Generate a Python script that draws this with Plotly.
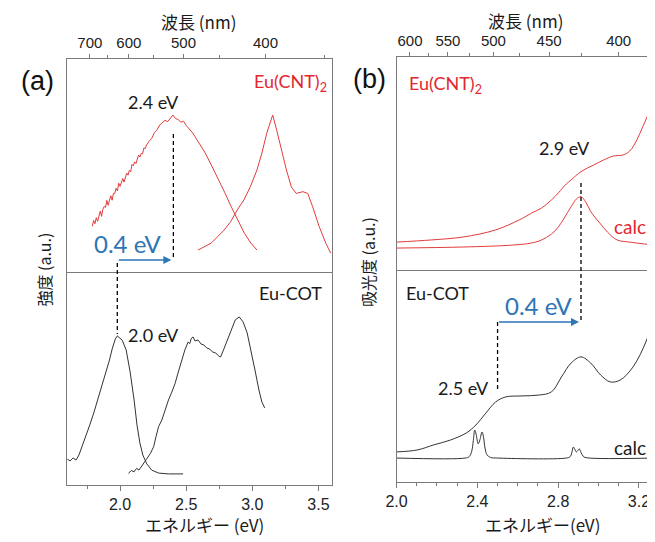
import plotly.graph_objects as go

W, H = 655, 542
OFF = 8          # the page body adds an 8 px margin; place content to compensate
HC = 1239.84     # eV * nm (wavelength <-> energy)

# ================= DATA =================
# (a) upper : Eu(CNT)2 emission (left, noisy) and excitation (right)
a_cnt_em_E = [1.79, 1.80, 1.81, 1.82, 1.83, 1.84, 1.85, 1.86, 1.87, 1.88, 1.89, 1.90, 1.91, 1.92,
              1.93, 1.94, 1.95, 1.96, 1.97, 1.98, 1.99, 2.00, 2.01, 2.02, 2.03, 2.04, 2.05, 2.06,
              2.07, 2.08, 2.09, 2.10, 2.11, 2.12, 2.13, 2.14, 2.15, 2.16, 2.17, 2.18, 2.19, 2.20,
              2.22, 2.24, 2.26, 2.28, 2.30, 2.32, 2.34, 2.36, 2.38, 2.40, 2.42, 2.44, 2.46, 2.48,
              2.50, 2.52, 2.55, 2.59, 2.64, 2.69, 2.74, 2.79, 2.84, 2.89, 2.94, 2.99, 3.035]
a_cnt_em_I = [0.215, 0.242, 0.227, 0.255, 0.238, 0.265, 0.286, 0.261, 0.295, 0.308, 0.303, 0.336, 0.313, 0.337,
              0.358, 0.337, 0.370, 0.369, 0.393, 0.380, 0.417, 0.402, 0.417, 0.439, 0.422, 0.451, 0.464, 0.455,
              0.477, 0.470, 0.505, 0.498, 0.517, 0.509, 0.534, 0.549, 0.540, 0.557, 0.555, 0.582, 0.579, 0.596,
              0.614, 0.628, 0.655, 0.668, 0.690, 0.703, 0.712, 0.706, 0.724, 0.737, 0.720, 0.716, 0.703, 0.708,
              0.688, 0.672, 0.652, 0.612, 0.563, 0.502, 0.440, 0.375, 0.307, 0.244, 0.182, 0.135, 0.103]
a_cnt_ex_E = [2.589, 2.639, 2.688, 2.738, 2.787, 2.836, 2.886, 2.936, 2.985, 3.035, 3.072, 3.109,
              3.154, 3.184, 3.221, 3.258, 3.295, 3.332, 3.382, 3.419, 3.456, 3.506, 3.556, 3.593]
a_cnt_ex_I = [0.103, 0.119, 0.135, 0.166, 0.197, 0.236, 0.291, 0.338, 0.400, 0.479, 0.557, 0.651,
              0.737, 0.667, 0.573, 0.479, 0.400, 0.369, 0.377, 0.369, 0.307, 0.213, 0.135, 0.088]

# (a) lower : Eu-COT emission (left) and excitation (right)
a_cot_em_E = [1.600, 1.622, 1.645, 1.667, 1.689, 1.712, 1.741, 1.771, 1.801, 1.830, 1.860, 1.890, 1.920,
              1.942, 1.964, 1.979, 1.994, 2.016, 2.046, 2.076, 2.106, 2.128, 2.150, 2.172, 2.202, 2.239,
              2.291, 2.366, 2.477]
a_cot_em_I = [0.122, 0.113, 0.127, 0.117, 0.141, 0.178, 0.225, 0.282, 0.338, 0.399, 0.455, 0.526, 0.587,
              0.643, 0.685, 0.700, 0.690, 0.680, 0.634, 0.531, 0.399, 0.282, 0.197, 0.141, 0.099, 0.070,
              0.056, 0.052, 0.052]
a_cot_ex_E = [2.063, 2.085, 2.106, 2.125, 2.143, 2.167, 2.185, 2.204, 2.230, 2.254, 2.272, 2.291, 2.316,
              2.340, 2.366, 2.391, 2.416, 2.436, 2.455, 2.475, 2.490, 2.514, 2.527, 2.539, 2.552, 2.567,
              2.589, 2.612, 2.634, 2.656, 2.678, 2.700, 2.723, 2.745, 2.760, 2.782, 2.812, 2.842, 2.871,
              2.901, 2.931, 2.961, 2.990, 3.020, 3.050, 3.072, 3.094]
a_cot_ex_I = [0.055, 0.068, 0.062, 0.078, 0.070, 0.094, 0.108, 0.125, 0.149, 0.180, 0.228, 0.274, 0.305,
              0.352, 0.399, 0.436, 0.477, 0.521, 0.563, 0.603, 0.634, 0.671, 0.664, 0.689, 0.695, 0.676,
              0.681, 0.662, 0.657, 0.643, 0.638, 0.624, 0.620, 0.606, 0.601, 0.634, 0.681, 0.737, 0.775,
              0.789, 0.765, 0.714, 0.634, 0.540, 0.446, 0.390, 0.362]

# (b) upper : Eu(CNT)2 absorption (exp) and calc.
b_cnt_exp_E = [2.000, 2.170, 2.330, 2.490, 2.607, 2.670, 2.718, 2.767, 2.801, 2.840, 2.864, 2.913,
               2.976, 3.024, 3.073, 3.121, 3.155, 3.189, 3.218, 3.243, 3.267, 3.282]
b_cnt_exp_I = [0.131, 0.141, 0.155, 0.188, 0.235, 0.268, 0.291, 0.329, 0.362, 0.404, 0.423, 0.462,
               0.493, 0.516, 0.535, 0.540, 0.559, 0.610, 0.671, 0.725, 0.780, 0.815]
b_cnt_calc_E = [2.000, 2.330, 2.573, 2.670, 2.718, 2.767, 2.801, 2.830, 2.864, 2.890, 2.913, 2.937,
                2.961, 2.985, 3.010, 3.044, 3.092, 3.155, 3.228, 3.282]
b_cnt_calc_I = [0.103, 0.108, 0.117, 0.127, 0.141, 0.169, 0.202, 0.244, 0.297, 0.333, 0.344, 0.318,
                0.275, 0.244, 0.216, 0.178, 0.141, 0.131, 0.122, 0.117]

# (b) lower : Eu-COT absorption (exp) and calc.
b_cot_exp_E = [2.000, 2.102, 2.184, 2.267, 2.345, 2.393, 2.442, 2.490, 2.539, 2.621, 2.704, 2.767,
               2.816, 2.864, 2.913, 2.961, 3.010, 3.058, 3.107, 3.170, 3.238, 3.277]
b_cot_exp_I = [0.142, 0.151, 0.175, 0.198, 0.231, 0.269, 0.325, 0.377, 0.401, 0.406, 0.410, 0.425,
               0.495, 0.561, 0.590, 0.561, 0.505, 0.472, 0.481, 0.542, 0.670, 0.797]
b_cot_calc_E = [2.000, 2.340, 2.360, 2.372, 2.380, 2.387, 2.394, 2.404, 2.413, 2.423, 2.430, 2.438,
                2.448, 2.465, 2.500, 2.840, 2.860, 2.868, 2.875, 2.882, 2.890, 2.897, 2.905, 2.913,
                2.925, 2.945, 3.280]
b_cot_calc_I = [0.113, 0.113, 0.120, 0.145, 0.195, 0.245, 0.225, 0.180, 0.200, 0.236, 0.215, 0.160,
                0.128, 0.116, 0.113, 0.113, 0.120, 0.140, 0.165, 0.155, 0.142, 0.148, 0.156, 0.140,
                0.120, 0.114, 0.113]

# axis ranges / ticks
a_range = [1.6, 3.6]
b_range = [2.0, 3.28]
a_top_nm = [700, 600, 500, 400]
a_top_minor_nm = [650, 550, 450, 350]
b_top_nm = [600, 550, 500, 450, 400]
b_top_minor_nm = [575, 525, 475, 425]

# marked energies
a_peak_cnt = 2.403
a_peak_cot = 1.979
b_peak_cnt = 2.913
b_edge_cot = 2.500

# ================= STYLE =================
RED = '#e03c3c'
RED_TXT = '#e3262e'
BLK = '#333333'
BLUE = '#2e75b6'
AXC = '#7a7a7a'
JP = 'Noto Sans CJK JP'
LAT = 'Lato, Noto Sans, sans-serif'
ARI = 'Liberation Sans, Arial, sans-serif'


def PX(x):
    return (x - OFF) / W


def PY(y):
    return 1 - (y - OFF) / H


fig = go.Figure()


def line(xs, ys, color, xa, ya, shape='linear', w=1.0):
    fig.add_trace(go.Scatter(x=xs, y=ys, mode='lines', xaxis=xa, yaxis=ya,
                             line=dict(color=color, width=w, shape=shape),
                             showlegend=False, hoverinfo='skip'))


line(a_cnt_em_E, a_cnt_em_I, RED, 'x2', 'y2')
line(a_cnt_ex_E, a_cnt_ex_I, RED, 'x2', 'y2')
line(a_cot_em_E, a_cot_em_I, BLK, 'x', 'y')
line(a_cot_ex_E, a_cot_ex_I, BLK, 'x', 'y')
line(b_cnt_exp_E, b_cnt_exp_I, RED, 'x4', 'y4', 'spline')
line(b_cnt_calc_E, b_cnt_calc_I, RED, 'x4', 'y4', 'spline')
line(b_cot_exp_E, b_cot_exp_I, BLK, 'x3', 'y3', 'spline')
line(b_cot_calc_E, b_cot_calc_I, BLK, 'x3', 'y3', 'spline')

A_X = [PX(57), PX(326)]
B_X = [PX(392), PX(655)]
A_YL = [PY(485), PY(272)]
A_YU = [PY(272), PY(59)]
B_YL = [PY(482), PY(270)]
B_YU = [PY(270), PY(57)]

base = dict(showgrid=False, zeroline=False, showline=True, linecolor=AXC, linewidth=1,
            tickcolor=AXC, tickwidth=1)
bfont = dict(family=ARI, size=16, color='#222222')
tfont = dict(family=ARI, size=15, color='#222222')
yb = dict(base, range=[0, 1], showticklabels=False, ticks='', fixedrange=True)

fig.update_layout(
    width=W, height=H, margin=dict(l=0, r=0, t=0, b=0),
    paper_bgcolor='white', plot_bgcolor='white',
    xaxis=dict(base, domain=A_X, anchor='y', range=a_range, tickmode='linear', tick0=2.0, dtick=0.5,
               tickformat='.1f', ticks='outside', ticklen=5, tickfont=bfont,
               minor=dict(tickmode='linear', tick0=1.75, dtick=0.25, ticks='outside', ticklen=3,
                          tickcolor=AXC)),
    xaxis2=dict(base, domain=A_X, anchor='y2', side='top', range=a_range, mirror=True,
                tickmode='array', tickvals=[HC / v for v in a_top_nm], ticktext=[str(v) for v in a_top_nm],
                ticks='outside', ticklen=4, tickfont=tfont,
                minor=dict(tickmode='array', tickvals=[HC / v for v in a_top_minor_nm], ticks='outside',
                           ticklen=3, tickcolor=AXC)),
    yaxis=dict(yb, domain=A_YL, anchor='x', mirror=True),
    yaxis2=dict(yb, domain=A_YU, anchor='x2', mirror=True),
    xaxis3=dict(base, domain=B_X, anchor='y3', range=b_range, tickmode='linear', tick0=2.0, dtick=0.4,
                tickformat='.1f', ticks='outside', ticklen=5, tickfont=bfont,
                minor=dict(tickmode='linear', tick0=2.0, dtick=0.1, ticks='outside', ticklen=3,
                           tickcolor=AXC)),
    xaxis4=dict(base, domain=B_X, anchor='y4', side='top', range=b_range, mirror=True,
                tickmode='array', tickvals=[HC / v for v in b_top_nm], ticktext=[str(v) for v in b_top_nm],
                ticks='outside', ticklen=4, tickfont=tfont,
                minor=dict(tickmode='array', tickvals=[HC / v for v in b_top_minor_nm], ticks='outside',
                           ticklen=3, tickcolor=AXC)),
    yaxis3=dict(yb, domain=B_YL, anchor='x3'),
    yaxis4=dict(yb, domain=B_YU, anchor='x4'),
)

# ---- dashed guide lines ----
dash = dict(color='black', width=1.3, dash='4px,3px')
fig.add_shape(type='line', xref='x2', yref='y2', x0=a_peak_cnt, x1=a_peak_cnt, y0=0.07, y1=0.66, line=dash)
fig.add_shape(type='line', xref='x', yref='paper', x0=a_peak_cot, x1=a_peak_cot, y0=PY(263), y1=PY(334), line=dash)
fig.add_shape(type='line', xref='x4', yref='paper', x0=b_peak_cnt, x1=b_peak_cnt, y0=PY(183), y1=PY(322), line=dash)
fig.add_shape(type='line', xref='x3', yref='paper', x0=b_edge_cot, x1=b_edge_cot, y0=PY(322), y1=PY(390), line=dash)

# ---- blue shift arrows ----
fig.add_annotation(x=a_peak_cnt - 0.015, y=0.056, xref='x2', yref='y2', ax=a_peak_cot, ay=0.056,
                   axref='x2', ayref='y2', text='', showarrow=True, arrowhead=2, arrowsize=1,
                   arrowwidth=1.6, arrowcolor=BLUE, standoff=0, startstandoff=0)
fig.add_annotation(x=b_peak_cnt - 0.01, y=0.755, xref='x3', yref='y3', ax=b_edge_cot, ay=0.755,
                   axref='x3', ayref='y3', text='', showarrow=True, arrowhead=2, arrowsize=1,
                   arrowwidth=1.6, arrowcolor=BLUE, standoff=0, startstandoff=0)


def txt(x, y, s, size=18, color='#1a1a1a', family=LAT, xanchor='center', angle=0):
    fig.add_annotation(x=PX(x), y=PY(y), xref='paper', yref='paper', text=s, showarrow=False,
                       xanchor=xanchor, yanchor='middle', textangle=angle,
                       font=dict(family=family, size=size, color=color))


# panel letters
txt(27, 81, '(a)', size=27, family=ARI, color='#111111')
txt(364, 79, '(b)', size=27, family=ARI, color='#111111')
# axis titles
txt(191, 22, '波長 (nm)', size=17, family=JP)
txt(523, 20, '波長 (nm)', size=17, family=JP)
txt(197, 524, 'エネルギー (eV)', size=17, family=JP)
txt(540, 524, 'エネルギー(eV)', size=17, family=JP)
txt(33, 270, '強度 (a.u.)', size=16, family=JP, angle=-90)
txt(363, 262, '吸光度 (a.u.)', size=16, family=JP, angle=-90)
# panel (a) labels
txt(323, 82, 'Eu(CNT)<sub>2</sub>', size=18, color=RED_TXT, xanchor='right')
txt(145, 102, '2.4 eV', size=18)
txt(119, 243, '0.4 eV', size=24, color=BLUE)
txt(318, 293, 'Eu-COT', size=18, xanchor='right')
txt(145, 335, '2.0 eV', size=18)
# panel (b) labels
txt(403, 85, 'Eu(CNT)<sub>2</sub>', size=18, color=RED_TXT, xanchor='left')
txt(563, 148, '2.9 eV', size=18)
txt(653, 227, 'calc.', size=19, color=RED_TXT, xanchor='right')
txt(400, 293, 'Eu-COT', size=18, xanchor='left')
txt(537, 305, '0.4 eV', size=24, color=BLUE)
txt(460, 388, '2.5 eV', size=18)
txt(653, 447, 'calc.', size=19, xanchor='right')

fig.write_html('out.html')
